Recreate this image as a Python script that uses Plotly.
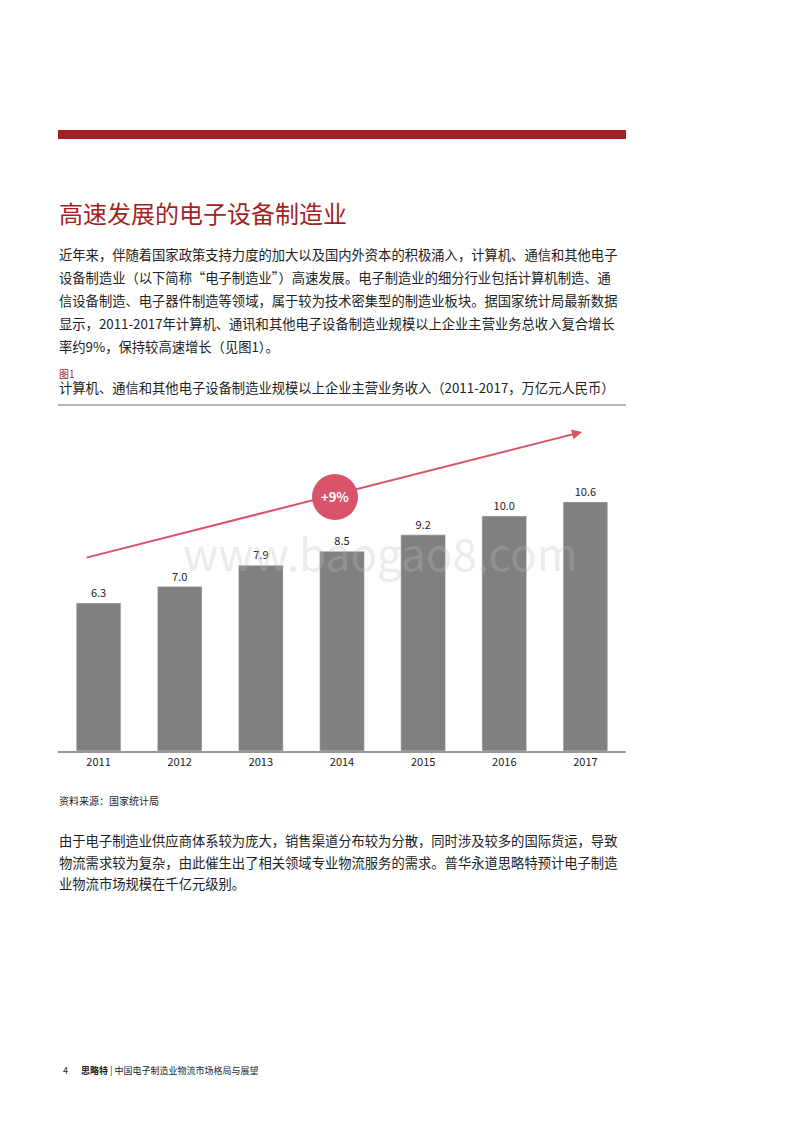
import plotly.graph_objects as go

years = ['2011', '2012', '2013', '2014', '2015', '2016', '2017']
revenue = [6.3, 7.0, 7.9, 8.5, 9.2, 10.0, 10.6]
growth_label = '+9%'

W, H = 800, 1132
RED = '#a31f24'
FONT = 'Noto Sans CJK SC'
OFF = 8  # page body margin


def px(x):
    return (x - OFF) / W


def py(y):
    return 1 - (y - OFF) / H


fig = go.Figure()
fig.add_trace(go.Bar(x=years, y=revenue, marker_color='#808080',
                     text=[f'{v:.1f}' for v in revenue], textposition='outside',
                     textfont=dict(size=11, color='#222'), cliponaxis=False))

# 751px = 0, 405px = top; 23.5 px per unit
fig.update_layout(
    width=W, height=H, margin=dict(l=0, r=0, t=0, b=0),
    paper_bgcolor='white', plot_bgcolor='white', showlegend=False,
    bargap=0.45, font=dict(family=FONT, color='#222'),
    xaxis=dict(domain=[px(58), px(626)], showline=True, linecolor='#999', linewidth=1.5,
               ticks='', tickfont=dict(size=11, color='#222'), fixedrange=True),
    yaxis=dict(domain=[py(751), py(405)], range=[0, 346 / 23.5], visible=False),
)

shapes = [
    dict(type='rect', xref='paper', yref='paper', x0=px(58), x1=px(626), y0=py(139), y1=py(130),
         fillcolor=RED, line_width=0),
    dict(type='line', xref='paper', yref='paper', x0=px(58), x1=px(626), y0=py(405), y1=py(405),
         line=dict(color='#999', width=1.5)),
    dict(type='circle', xref='paper', yref='paper', x0=px(312), x1=px(358), y0=py(520), y1=py(474),
         fillcolor='#d9546a', line_width=0, layer='above'),
]
fig.update_layout(shapes=shapes)


def txt(x, y, s, size, color='#222', **kw):
    fig.add_annotation(xref='paper', yref='paper', x=px(x), y=py(y), text=s, showarrow=False,
                       xanchor=kw.pop('xanchor', 'left'), yanchor='middle',
                       font=dict(size=size, color=color, family=FONT), **kw)


# watermark
txt(380, 552, 'www.baogao8.com', 44, 'rgba(190,190,190,0.3)', xanchor='center')

# arrow (offsets in pixels from head to tail)
fig.add_annotation(xref='paper', yref='paper', axref='pixel', ayref='pixel',
                   x=px(582), y=py(432), ax=85 - 582, ay=558 - 432, text='', showarrow=True,
                   arrowhead=2, arrowsize=1, arrowwidth=2, arrowcolor='#d9546a')
txt(335, 497, f'<b>{growth_label}</b>', 13, 'white', xanchor='center')

txt(57, 213, '高速发展的电子设备制造业', 24, RED)
para1 = ['近年来，伴随着国家政策支持力度的加大以及国内外资本的积极涌入，计算机、通信和其他电子',
         '设备制造业（以下简称“电子制造业”）高速发展。电子制造业的细分行业包括计算机制造、通',
         '信设备制造、电子器件制造等领域，属于较为技术密集型的制造业板块。据国家统计局最新数据',
         '显示，2011-2017年计算机、通讯和其他电子设备制造业规模以上企业主营业务总收入复合增长',
         '率约9%，保持较高速增长（见图1）。']
for i, line in enumerate(para1):
    txt(57, 254 + i * 23, line, 13.3)

txt(57, 373, '图1', 10, RED)
txt(57, 388, '计算机、通信和其他电子设备制造业规模以上企业主营业务收入（2011-2017，万亿元人民币）', 13.3)
txt(57, 800, '资料来源：国家统计局', 10)

para2 = ['由于电子制造业供应商体系较为庞大，销售渠道分布较为分散，同时涉及较多的国际货运，导致',
         '物流需求较为复杂，由此催生出了相关领域专业物流服务的需求。普华永道思略特预计电子制造',
         '业物流市场规模在千亿元级别。']
for i, line in enumerate(para2):
    txt(57, 840 + i * 22, line, 13.3)

txt(61, 1070, '4', 9)
txt(79, 1070, '<b>思略特</b> | 中国电子制造业物流市场格局与展望', 9)

fig.write_html('out.html')
